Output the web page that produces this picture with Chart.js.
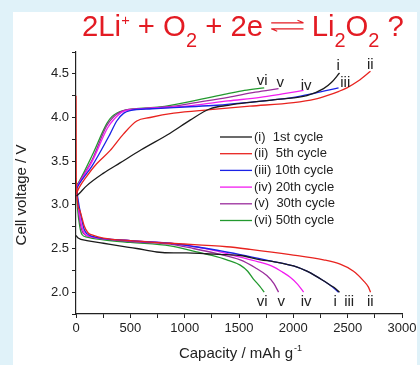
<!DOCTYPE html>
<html>
<head>
<meta charset="utf-8">
<script src="https://cdn.jsdelivr.net/npm/chart.js@4.4.1/dist/chart.umd.min.js"></script>
<style>
  html, body { margin: 0; padding: 0; background: #e0f2f9; }
  #panel { position: absolute; left: 13px; top: 12px; width: 404px; height: 353px; background: #fff; }
  #wrap { position: absolute; left: 0; top: 0; width: 420px; height: 365px; }
</style>
</head>
<body>
<div id="panel"></div>
<div id="wrap"><canvas id="myCycleChart" width="420" height="365"></canvas></div>
<script>
// cycle names, colours and short labels
const cycleNames = ["(i)  1st cycle", "(ii)  5th cycle", "(iii) 10th cycle", "(iv) 20th cycle", "(v)  30th cycle", "(vi) 50th cycle"];
const cycleTags = ["i", "ii", "iii", "iv", "v", "vi"];
const cycleColors = ["#1b1b1b", "#e8231f", "#1a22e6", "#f21df0", "#9a2c9c", "#22992e"];

// discharge curves (capacity mAh/g, voltage V)
const capDisI = [0, 20, 100, 252, 400, 559, 743, 900, 1020, 1200, 1388, 1511, 1700, 1817, 2002, 2125, 2200, 2278, 2340, 2390, 2425];
const vDisI = [2.65, 2.62, 2.59, 2.56, 2.53, 2.50, 2.46, 2.45, 2.45, 2.44, 2.43, 2.42, 2.37, 2.35, 2.30, 2.24, 2.19, 2.13, 2.08, 2.04, 2.0];
const capDisII = [0, 2, 30, 55, 75, 110, 160, 252, 500, 866, 1388, 1603, 1971, 2278, 2431, 2554, 2646, 2690, 2710];
const vDisII = [4.25, 3.3, 2.95, 2.85, 2.76, 2.68, 2.65, 2.62, 2.59, 2.56, 2.52, 2.49, 2.43, 2.37, 2.32, 2.24, 2.13, 2.06, 2.0];
const capDisIII = [0, 20, 50, 75, 100, 150, 500, 866, 1100, 1300, 1511, 1817, 2002, 2125, 2200, 2278, 2340, 2416];
const vDisIII = [3.25, 3.05, 2.85, 2.72, 2.67, 2.64, 2.59, 2.56, 2.52, 2.48, 2.43, 2.35, 2.30, 2.24, 2.19, 2.13, 2.08, 2.0];
const capDisIV = [0, 20, 45, 80, 150, 500, 866, 1100, 1300, 1511, 1700, 1817, 1900, 1971, 2040, 2094];
const vDisIV = [3.25, 3.0, 2.8, 2.67, 2.63, 2.59, 2.56, 2.52, 2.47, 2.40, 2.34, 2.29, 2.23, 2.17, 2.09, 2.0];
const capDisV = [0, 20, 40, 70, 150, 500, 866, 1080, 1300, 1511, 1650, 1756, 1820, 1864];
const vDisV = [3.25, 2.98, 2.78, 2.67, 2.63, 2.58, 2.55, 2.50, 2.44, 2.37, 2.28, 2.19, 2.10, 2.0];
const capDisVI = [0, 15, 35, 55, 100, 252, 500, 866, 1080, 1250, 1388, 1511, 1580, 1633, 1690, 1732];
const vDisVI = [3.25, 2.95, 2.75, 2.66, 2.63, 2.60, 2.57, 2.53, 2.47, 2.42, 2.37, 2.31, 2.24, 2.15, 2.07, 2.0];

// charge curves
const capChgI = [5, 30, 100, 250, 405, 600, 866, 1050, 1234, 1400, 1572, 1879, 2125, 2278, 2350, 2425];
const vChgI = [3.10, 3.13, 3.22, 3.36, 3.48, 3.63, 3.82, 3.97, 4.10, 4.14, 4.17, 4.21, 4.25, 4.33, 4.40, 4.51];
const capChgII = [5, 30, 100, 190, 313, 436, 559, 682, 900, 1234, 1600, 2002, 2200, 2309, 2420, 2493, 2600, 2710];
const vChgII = [3.13, 3.20, 3.33, 3.47, 3.62, 3.81, 3.96, 4.00, 4.05, 4.09, 4.13, 4.17, 4.21, 4.25, 4.30, 4.34, 4.42, 4.53];
const capChgIII = [5, 30, 150, 313, 375, 440, 497, 700, 1000, 1300, 1572, 1800, 2002, 2200, 2416];
const vChgIII = [3.18, 3.24, 3.45, 3.81, 3.96, 4.05, 4.08, 4.10, 4.12, 4.14, 4.17, 4.20, 4.23, 4.28, 4.34];
const capChgIV = [5, 30, 150, 290, 350, 436, 600, 900, 1080, 1400, 1695, 1900, 2094];
const vChgIV = [3.2, 3.25, 3.5, 3.88, 3.98, 4.07, 4.10, 4.12, 4.14, 4.19, 4.23, 4.27, 4.31];
const capChgV = [5, 30, 150, 280, 340, 436, 600, 900, 1100, 1400, 1650, 1864];
const vChgV = [3.2, 3.26, 3.52, 3.90, 4.00, 4.08, 4.10, 4.13, 4.17, 4.23, 4.29, 4.33];
const capChgVI = [5, 30, 150, 283, 330, 436, 774, 1080, 1388, 1550, 1732];
const vChgVI = [3.22, 3.27, 3.57, 3.93, 4.01, 4.08, 4.12, 4.19, 4.27, 4.31, 4.34];

// curve end tags (placed in data units)
const tagCapTop = [2413, 2708, 2478, 2118, 1879, 1713];
const tagVTop = [4.59, 4.60, 4.40, 4.36, 4.40, 4.42];
const tagCapBottom = [2386, 2708, 2514, 2118, 1888, 1713];
const tagVBottom = [1.89, 1.89, 1.89, 1.89, 1.89, 1.89];

const disCaps = [capDisI, capDisII, capDisIII, capDisIV, capDisV, capDisVI];
const disVolts = [vDisI, vDisII, vDisIII, vDisIV, vDisV, vDisVI];
const chgCaps = [capChgI, capChgII, capChgIII, capChgIV, capChgV, capChgVI];
const chgVolts = [vChgI, vChgII, vChgIII, vChgIV, vChgV, vChgVI];

const toPoints = (xs, ys) => xs.map((x, i) => ({ x: x, y: ys[i] }));

const datasets = [];
for (let k = 0; k < cycleNames.length; k++) {
  datasets.push({
    label: cycleNames[k],
    data: toPoints(disCaps[k], disVolts[k]),
    borderColor: cycleColors[k],
  });
  datasets.push({
    label: cycleNames[k] + " charge",
    data: toPoints(chgCaps[k], chgVolts[k]),
    borderColor: cycleColors[k],
  });
}
datasets.forEach((d) => {
  d.showLine = true;
  d.borderWidth = 1.3;
  d.pointRadius = 0;
  d.cubicInterpolationMode = "monotone";
  d.fill = false;
});

const FONT = "'Liberation Sans', Arial, sans-serif";

// draws the red equation left to right, scaled to fit between x0 and x1
function drawEquation(ctx, x0, x1, base) {
  // kind: m = main, s = subscript, p = superscript, a = arrows
  const parts = [
    ["2Li", "m"], ["+", "p"], [" + O", "m"], ["2", "s"], [" + 2e ", "m"],
    ["", "a"], [" Li", "m"], ["2", "s"], ["O", "m"], ["2", "s"], [" ?", "m"],
  ];
  const fontFor = (kind, f) => (kind === "s" ? f * 0.68 : kind === "p" ? f * 0.5 : f) + "px " + FONT;
  const widthAt = (f) => {
    let w = 0;
    parts.forEach((p) => {
      if (p[1] === "a") { w += f * 1.1; return; }
      ctx.font = fontFor(p[1], f);
      w += ctx.measureText(p[0]).width;
    });
    return w;
  };
  const f = 27 * (x1 - x0) / widthAt(27);
  let x = x0;
  parts.forEach((p) => {
    if (p[1] === "a") {
      const aw = f * 1.1;
      const t = base - f * 0.45;
      ctx.lineWidth = 1.2;
      ctx.beginPath();
      ctx.moveTo(x, t); ctx.lineTo(x + aw, t);
      ctx.moveTo(x + aw, t); ctx.lineTo(x + aw - 6, t - 2.5);
      ctx.moveTo(x, t + 6); ctx.lineTo(x + aw, t + 6);
      ctx.moveTo(x, t + 6); ctx.lineTo(x + 6, t + 8.5);
      ctx.stroke();
      x += aw;
      return;
    }
    ctx.font = fontFor(p[1], f);
    const dy = p[1] === "s" ? f * 0.38 : p[1] === "p" ? -f * 0.38 : 0;
    ctx.fillText(p[0], x, base + dy);
    x += ctx.measureText(p[0]).width;
  });
}

// title, axis titles, legend and curve tags
const extrasPlugin = {
  id: "extras",
  afterDraw(chart) {
    const ctx = chart.ctx;
    const xs = chart.scales.x;
    const ys = chart.scales.y;
    ctx.save();

    // curve tags
    ctx.fillStyle = "#222";
    ctx.font = "15px " + FONT;
    ctx.textAlign = "center";
    ctx.textBaseline = "middle";
    for (let k = 0; k < cycleTags.length; k++) {
      ctx.fillText(cycleTags[k], xs.getPixelForValue(tagCapTop[k]), ys.getPixelForValue(tagVTop[k]));
      ctx.fillText(cycleTags[k], xs.getPixelForValue(tagCapBottom[k]), ys.getPixelForValue(tagVBottom[k]));
    }

    // legend
    ctx.font = "13px " + FONT;
    ctx.textAlign = "left";
    for (let k = 0; k < cycleNames.length; k++) {
      const yy = 137 + k * 16.7;
      ctx.strokeStyle = cycleColors[k];
      ctx.lineWidth = 1.3;
      ctx.beginPath();
      ctx.moveTo(220, yy);
      ctx.lineTo(252, yy);
      ctx.stroke();
      ctx.fillStyle = "#222";
      ctx.fillText(cycleNames[k], 254, yy);
    }

    // y title
    ctx.save();
    ctx.translate(22, 195);
    ctx.rotate(-Math.PI / 2);
    ctx.textAlign = "center";
    ctx.font = "15px " + FONT;
    ctx.fillText("Cell voltage / V", 0, 0);
    ctx.restore();

    // x title
    ctx.textBaseline = "alphabetic";
    ctx.font = "15px " + FONT;
    const main = "Capacity / mAh g";
    const w1 = ctx.measureText(main).width;
    ctx.font = "9px " + FONT;
    const w2 = ctx.measureText("-1").width;
    const x0 = 240 - (w1 + w2) / 2;
    ctx.font = "15px " + FONT;
    ctx.fillText(main, x0, 358);
    ctx.font = "9px " + FONT;
    ctx.fillText("-1", x0 + w1 + 1, 351);

    // red equation title
    ctx.fillStyle = "#e31b23";
    ctx.strokeStyle = "#e31b23";
    drawEquation(ctx, 82, 404, 36);

    ctx.restore();
  },
};

new Chart(document.getElementById("myCycleChart").getContext("2d"), {
  type: "scatter",
  data: { datasets: datasets },
  options: {
    responsive: false,
    animation: false,
    devicePixelRatio: 1,
    layout: { padding: { top: 52, right: 18, left: 0, bottom: 0 } },
    plugins: {
      legend: { display: false },
      tooltip: { enabled: false },
    },
    scales: {
      x: {
        type: "linear",
        min: 0,
        max: 3000,
        afterFit: (s) => { s.height = 51; },
        ticks: {
          stepSize: 250,
          autoSkip: false,
          maxRotation: 0,
          color: "#222",
          font: { size: 13, family: FONT },
          padding: 3,
          callback: (v) => (v % 500 === 0 ? v : ""),
        },
        grid: { drawOnChartArea: false, color: "#222", tickLength: 4 },
        border: { color: "#222", width: 1.2 },
      },
      y: {
        min: 1.75,
        max: 4.75,
        afterFit: (s) => { s.width = 76; },
        ticks: {
          stepSize: 0.25,
          autoSkip: false,
          color: "#222",
          font: { size: 13, family: FONT },
          padding: 3,
          callback: (v) => (Math.abs(v * 2 - Math.round(v * 2)) < 1e-6 ? v.toFixed(1) : ""),
        },
        grid: { drawOnChartArea: false, color: "#222", tickLength: 4 },
        border: { color: "#222", width: 1.2 },
      },
    },
  },
  plugins: [extrasPlugin],
});
</script>
</body>
</html>
